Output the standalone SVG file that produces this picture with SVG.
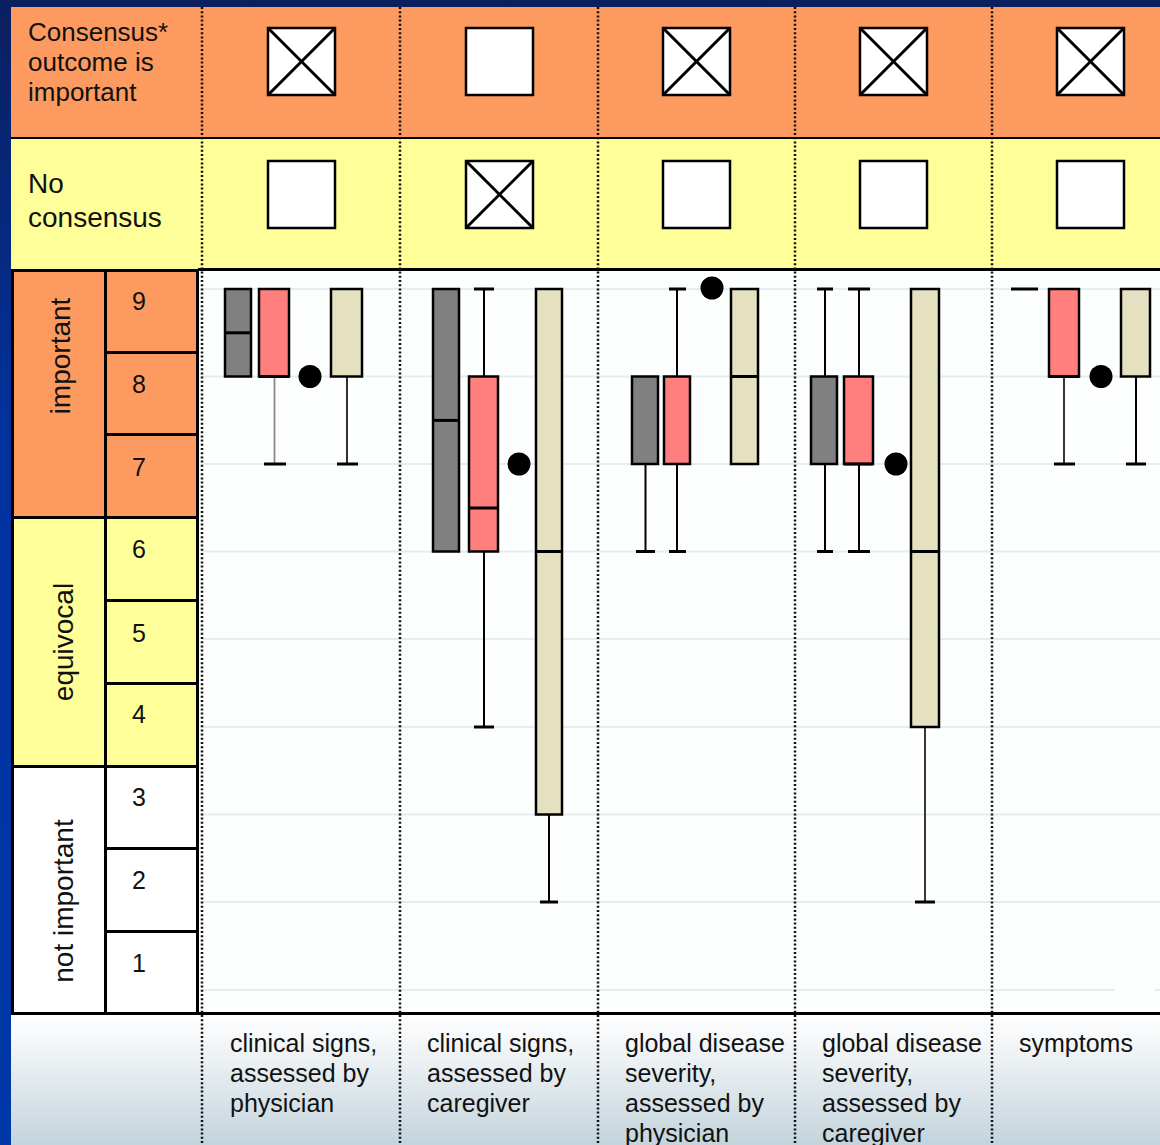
<svg xmlns="http://www.w3.org/2000/svg" width="1160" height="1145" viewBox="0 0 1160 1145">
<defs>
<linearGradient id="bg" x1="0" y1="0" x2="0" y2="1">
<stop offset="0" stop-color="#0b1f5e"/>
<stop offset="0.4" stop-color="#0033a0"/>
<stop offset="1" stop-color="#0038a8"/>
</linearGradient>
<linearGradient id="foot" x1="0" y1="0" x2="0" y2="1">
<stop offset="0" stop-color="#ffffff"/>
<stop offset="0.25" stop-color="#f2f5f7"/>
<stop offset="1" stop-color="#c3d4dc"/>
</linearGradient>
<style>
.t{font-family:"Liberation Sans",Arial,sans-serif;fill:#111}
.hd{font-size:26px}
.hd2{font-size:28px}
.lb{font-size:25px}
.num{font-size:25px;text-anchor:middle}
.rot{font-size:28px;text-anchor:middle}
.cell{stroke:#000;stroke-width:3}
.chk{fill:#fff;stroke:#000;stroke-width:2.5}
.x{stroke:#000;stroke-width:3}
.div{stroke:#111;stroke-width:2.5;stroke-dasharray:2 2.2;fill:none}
.grid{stroke:#e3edf2;stroke-width:2}
.bx{stroke:#000;stroke-width:2.5}
.g{fill:#808080}
.r{fill:#ff7f7f}
.b{fill:#e5e0bf}
.med{stroke:#000;stroke-width:3}
.wh{stroke:#000;stroke-width:2}
.cap{stroke:#000;stroke-width:3}
.dot{fill:#000}
</style>
</defs>

<rect x="0" y="0" width="1160" height="1145" fill="url(#bg)"/>

<!-- header rows -->
<g id="row-consensus">
<rect x="11" y="7" width="1149" height="131" fill="#fd9a60"/>
<text class="t hd" x="28" y="41">Consensus*</text>
<text class="t hd" x="28" y="71">outcome is</text>
<text class="t hd" x="28" y="101">important</text>
</g>
<g id="row-noconsensus">
<rect x="11" y="138" width="1149" height="131" fill="#ffff99"/>
<text class="t hd2" x="28" y="193">No</text>
<text class="t hd2" x="28" y="227">consensus</text>
</g>
<line x1="11" y1="138" x2="1160" y2="138" stroke="#000" stroke-width="2"/>

<!-- checkboxes -->
<g id="check-consensus">
<g id="cb1a"><rect class="chk" x="268" y="28" width="67" height="67"/><line class="x" x1="268" y1="28" x2="335" y2="95"/><line class="x" x1="335" y1="28" x2="268" y2="95"/></g>
<g id="cb2a"><rect class="chk" x="466" y="28" width="67" height="67"/></g>
<g id="cb3a"><rect class="chk" x="663" y="28" width="67" height="67"/><line class="x" x1="663" y1="28" x2="730" y2="95"/><line class="x" x1="730" y1="28" x2="663" y2="95"/></g>
<g id="cb4a"><rect class="chk" x="860" y="28" width="67" height="67"/><line class="x" x1="860" y1="28" x2="927" y2="95"/><line class="x" x1="927" y1="28" x2="860" y2="95"/></g>
<g id="cb5a"><rect class="chk" x="1057" y="28" width="67" height="67"/><line class="x" x1="1057" y1="28" x2="1124" y2="95"/><line class="x" x1="1124" y1="28" x2="1057" y2="95"/></g>
</g>
<g id="check-noconsensus">
<g id="cb1b"><rect class="chk" x="268" y="161" width="67" height="67"/></g>
<g id="cb2b"><rect class="chk" x="466" y="161" width="67" height="67"/><line class="x" x1="466" y1="161" x2="533" y2="228"/><line class="x" x1="533" y1="161" x2="466" y2="228"/></g>
<g id="cb3b"><rect class="chk" x="663" y="161" width="67" height="67"/></g>
<g id="cb4b"><rect class="chk" x="860" y="161" width="67" height="67"/></g>
<g id="cb5b"><rect class="chk" x="1057" y="161" width="67" height="67"/></g>
</g>

<!-- plot area -->
<g id="plot-area">
<rect x="198" y="270" width="962" height="743" fill="#fdfefe"/>
<line class="grid" x1="202" y1="289" x2="1160" y2="289"/>
<line class="grid" x1="202" y1="376.5" x2="1160" y2="376.5"/>
<line class="grid" x1="202" y1="464" x2="1160" y2="464"/>
<line class="grid" x1="202" y1="551.5" x2="1160" y2="551.5"/>
<line class="grid" x1="202" y1="639" x2="1160" y2="639"/>
<line class="grid" x1="202" y1="727" x2="1160" y2="727"/>
<line class="grid" x1="202" y1="814.5" x2="1160" y2="814.5"/>
<line class="grid" x1="202" y1="902" x2="1160" y2="902"/>
<line class="grid" x1="202" y1="990" x2="1115" y2="990"/>
<line class="grid" x1="1155" y1="990" x2="1160" y2="990"/>
</g>

<!-- footer -->
<g id="footer">
<rect x="11" y="1014" width="1149" height="131" fill="url(#foot)"/>
</g>

<line x1="198" y1="269.5" x2="1160" y2="269.5" stroke="#000" stroke-width="3"/>
<line x1="198" y1="1013.5" x2="1160" y2="1013.5" stroke="#000" stroke-width="3"/>

<!-- column dividers -->
<g id="dividers">
<line class="div" x1="202" y1="7" x2="202" y2="1145"/>
<line class="div" x1="400" y1="7" x2="400" y2="1145"/>
<line class="div" x1="598" y1="7" x2="598" y2="1145"/>
<line class="div" x1="795" y1="7" x2="795" y2="1145"/>
<line class="div" x1="992" y1="7" x2="992" y2="1145"/>
</g>

<!-- axis -->
<g id="axis-important">
<rect class="cell" x="12.5" y="270.5" width="93" height="247" fill="#fd9a60"/>
<text class="t rot" transform="translate(70,356) rotate(-90)">important</text>
</g>
<g id="axis-equivocal">
<rect class="cell" x="12.5" y="517.5" width="93" height="249" fill="#ffff99"/>
<text class="t rot" transform="translate(73,642) rotate(-90)">equivocal</text>
</g>
<g id="axis-notimportant">
<rect class="cell" x="12.5" y="766.5" width="93" height="247" fill="#ffffff"/>
<text class="t rot" transform="translate(73,901) rotate(-90)">not important</text>
</g>
<g id="axis-scale">
<rect class="cell" x="105.5" y="270.5" width="92" height="82" fill="#fd9a60"/>
<rect class="cell" x="105.5" y="352.5" width="92" height="82" fill="#fd9a60"/>
<rect class="cell" x="105.5" y="434.5" width="92" height="83" fill="#fd9a60"/>
<rect class="cell" x="105.5" y="517.5" width="92" height="83" fill="#ffff99"/>
<rect class="cell" x="105.5" y="600.5" width="92" height="83" fill="#ffff99"/>
<rect class="cell" x="105.5" y="683.5" width="92" height="83" fill="#ffff99"/>
<rect class="cell" x="105.5" y="766.5" width="92" height="82" fill="#ffffff"/>
<rect class="cell" x="105.5" y="848.5" width="92" height="83" fill="#ffffff"/>
<rect class="cell" x="105.5" y="931.5" width="92" height="82" fill="#ffffff"/>
<text class="t num" x="139" y="310">9</text>
<text class="t num" x="139" y="393">8</text>
<text class="t num" x="139" y="476">7</text>
<text class="t num" x="139" y="558">6</text>
<text class="t num" x="139" y="642">5</text>
<text class="t num" x="139" y="723">4</text>
<text class="t num" x="139" y="806">3</text>
<text class="t num" x="139" y="889">2</text>
<text class="t num" x="139" y="972">1</text>
</g>

<!-- column 1: clinical signs, physician -->
<g id="col1">
<rect class="bx g" x="225" y="289" width="26" height="87.5"/>
<line class="med" x1="225" y1="332.8" x2="251" y2="332.8"/>
<line stroke="#888" stroke-width="1.8" x1="274.5" y1="376.5" x2="274.5" y2="464"/>
<line class="cap" x1="264" y1="464" x2="286" y2="464"/>
<rect class="bx r" x="259" y="289" width="30" height="87.5"/>
<line class="med" x1="259" y1="376.5" x2="289" y2="376.5"/>
<circle class="dot" cx="310" cy="376.5" r="11.5"/>
<line stroke="#333" stroke-width="2" x1="347" y1="376.5" x2="347" y2="464"/>
<line class="cap" x1="337" y1="464" x2="358" y2="464"/>
<rect class="bx b" x="331" y="289" width="31" height="87.5"/>
</g>

<!-- column 2: clinical signs, caregiver -->
<g id="col2">
<rect class="bx g" x="433" y="289" width="26" height="262.5"/>
<line class="med" x1="433" y1="420.4" x2="459" y2="420.4"/>
<line class="wh" x1="484" y1="289" x2="484" y2="727"/>
<line class="cap" x1="474" y1="289" x2="494" y2="289"/>
<line class="cap" x1="474" y1="727" x2="494" y2="727"/>
<rect class="bx r" x="469" y="376.5" width="29" height="175"/>
<line class="med" x1="469" y1="508" x2="498" y2="508"/>
<circle class="dot" cx="519" cy="464" r="11.5"/>
<line class="wh" x1="549" y1="814.5" x2="549" y2="902"/>
<line class="cap" x1="540" y1="902" x2="558" y2="902"/>
<rect class="bx b" x="536" y="289" width="26" height="525.5"/>
<line class="med" x1="536" y1="551.5" x2="562" y2="551.5"/>
</g>

<!-- column 3: global disease severity, physician -->
<g id="col3">
<line class="wh" x1="645.5" y1="464" x2="645.5" y2="551.5"/>
<line class="cap" x1="636" y1="551.5" x2="655" y2="551.5"/>
<rect class="bx g" x="632" y="376.5" width="26" height="87.5"/>
<line class="wh" x1="677" y1="289" x2="677" y2="551.5"/>
<line class="cap" x1="669" y1="289" x2="686" y2="289"/>
<line class="cap" x1="669" y1="551.5" x2="686" y2="551.5"/>
<rect class="bx r" x="664" y="376.5" width="26" height="87.5"/>
<circle class="dot" cx="712" cy="288" r="11.5"/>
<rect class="bx b" x="731" y="289" width="27" height="175"/>
<line class="med" x1="731" y1="376.5" x2="758" y2="376.5"/>
</g>

<!-- column 4: global disease severity, caregiver -->
<g id="col4">
<line class="wh" x1="825" y1="289" x2="825" y2="551.5"/>
<line class="cap" x1="817" y1="289" x2="833" y2="289"/>
<line class="cap" x1="817" y1="551.5" x2="833" y2="551.5"/>
<rect class="bx g" x="811" y="376.5" width="26" height="87.5"/>
<line class="wh" x1="859" y1="289" x2="859" y2="551.5"/>
<line class="cap" x1="848" y1="289" x2="870" y2="289"/>
<line class="cap" x1="848" y1="551.5" x2="870" y2="551.5"/>
<rect class="bx r" x="844" y="376.5" width="29" height="87.5"/>
<line class="med" x1="844" y1="464" x2="873" y2="464"/>
<circle class="dot" cx="896" cy="464" r="11.5"/>
<line stroke="#222" stroke-width="1.8" x1="925" y1="727" x2="925" y2="902"/>
<line class="cap" x1="915" y1="902" x2="935" y2="902"/>
<rect class="bx b" x="911" y="289" width="28" height="438"/>
<line class="med" x1="911" y1="551.5" x2="939" y2="551.5"/>
</g>

<!-- column 5: symptoms -->
<g id="col5">
<line class="med" x1="1011" y1="289" x2="1038" y2="289"/>
<line stroke="#222" stroke-width="1.8" x1="1064" y1="376.5" x2="1064" y2="464"/>
<line class="cap" x1="1054" y1="464" x2="1075" y2="464"/>
<rect class="bx r" x="1049" y="289" width="30" height="87.5"/>
<line class="med" x1="1049" y1="376.5" x2="1079" y2="376.5"/>
<circle class="dot" cx="1101" cy="376.5" r="11.5"/>
<line class="wh" x1="1136" y1="376.5" x2="1136" y2="464"/>
<line class="cap" x1="1126" y1="464" x2="1146" y2="464"/>
<rect class="bx b" x="1121" y="289" width="29" height="87.5"/>
</g>

<!-- column labels -->
<g id="label1">
<text class="t lb" x="230" y="1052">clinical signs,<tspan x="230" y="1082">assessed by</tspan><tspan x="230" y="1112">physician</tspan></text>
</g>
<g id="label2">
<text class="t lb" x="427" y="1052">clinical signs,<tspan x="427" y="1082">assessed by</tspan><tspan x="427" y="1112">caregiver</tspan></text>
</g>
<g id="label3">
<text class="t lb" x="625" y="1052">global disease<tspan x="625" y="1082">severity,</tspan><tspan x="625" y="1112">assessed by</tspan><tspan x="625" y="1142">physician</tspan></text>
</g>
<g id="label4">
<text class="t lb" x="822" y="1052">global disease<tspan x="822" y="1082">severity,</tspan><tspan x="822" y="1112">assessed by</tspan><tspan x="822" y="1142">caregiver</tspan></text>
</g>
<g id="label5">
<text class="t lb" x="1019" y="1052">symptoms</text>
</g>
</svg>
